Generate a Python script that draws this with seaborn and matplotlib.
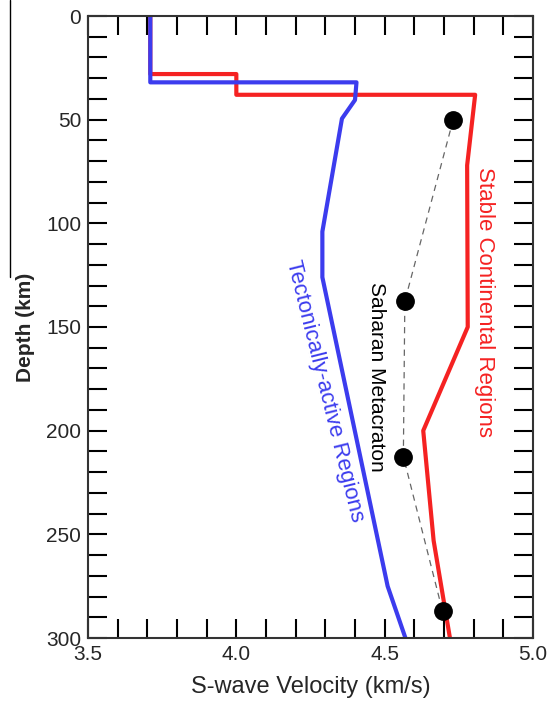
import numpy as np
import pandas as pd
import matplotlib
matplotlib.use('Agg')
import matplotlib.pyplot as plt
from matplotlib.lines import Line2D
from matplotlib.ticker import MultipleLocator
import seaborn as sns

sns.set_style('white')
plt.rcParams['font.family'] = ['Liberation Sans', 'DejaVu Sans']

# Stable continental regions (red)
stable_vs = [3.71, 3.71, 4.00, 4.00, 4.805, 4.778, 4.78, 4.63, 4.665, 4.72]
stable_depth = [0, 28, 28, 38, 38, 72, 150, 200, 253, 300]

# Tectonically-active regions (blue)
tecto_vs = [3.71, 3.71, 4.405, 4.40, 4.356, 4.29, 4.29, 4.51, 4.57]
tecto_depth = [0, 32, 32, 40.5, 49.5, 104, 126, 275, 300]

# Saharan Metacraton points
sahara_vs = [4.731, 4.568, 4.563, 4.695]
sahara_depth = [50, 137.5, 212.5, 287]

fig = plt.figure(figsize=(5.5, 7.01), dpi=100)
ax = fig.add_axes([88/550, 1 - 638/701, 445/550, 622/701])

sns.lineplot(x=stable_vs, y=stable_depth, sort=False, estimator=None,
             color='#f52222', lw=3, ax=ax)
sns.lineplot(x=tecto_vs, y=tecto_depth, sort=False, estimator=None,
             color='#3c3cee', lw=3, ax=ax)
sns.lineplot(x=sahara_vs, y=sahara_depth, sort=False, estimator=None,
             color='#666666', lw=0.9, ax=ax, linestyle=(0, (5, 4)))
ax.plot(sahara_vs, sahara_depth, 'o', color='black', ms=12.5, ls='none')

ax.set_xlim(3.5, 5.0)
ax.set_ylim(300, 0)
ax.xaxis.set_major_locator(MultipleLocator(0.5))
ax.xaxis.set_minor_locator(MultipleLocator(0.1))
ax.yaxis.set_major_locator(MultipleLocator(50))
ax.yaxis.set_minor_locator(MultipleLocator(10))
ax.xaxis.set_major_formatter(plt.FormatStrFormatter('%.1f'))
ax.tick_params(which='both', direction='in', length=14, width=1.5,
               top=True, right=True, bottom=True, left=True,
               labelsize=15, pad=5, color='black')

for s in ax.spines.values():
    s.set_linewidth(1.5)
    s.set_color('#333333')

ax.set_xlabel('S-wave Velocity (km/s)', fontsize=17, labelpad=9)
ax.set_ylabel('Depth (km)', fontsize=15, fontweight='bold', labelpad=8)

ax.text(4.835, 138, 'Stable Continental Regions', color='#f52222', fontsize=16,
        rotation=-90, ha='center', va='center', rotation_mode='anchor')
ax.text(4.474, 174, 'Saharan Metacraton', color='black', fontsize=15,
        rotation=-90, ha='center', va='center', rotation_mode='anchor')
ax.text(4.297, 181, 'Tectonically-active Regions', color='#3c3cee', fontsize=16,
        rotation=-76, ha='center', va='center', rotation_mode='anchor')

fig.add_artist(Line2D([10/550, 10/550], [1, 1 - 277/701], color='black', lw=1))

fig.savefig('out.png', dpi=100)
